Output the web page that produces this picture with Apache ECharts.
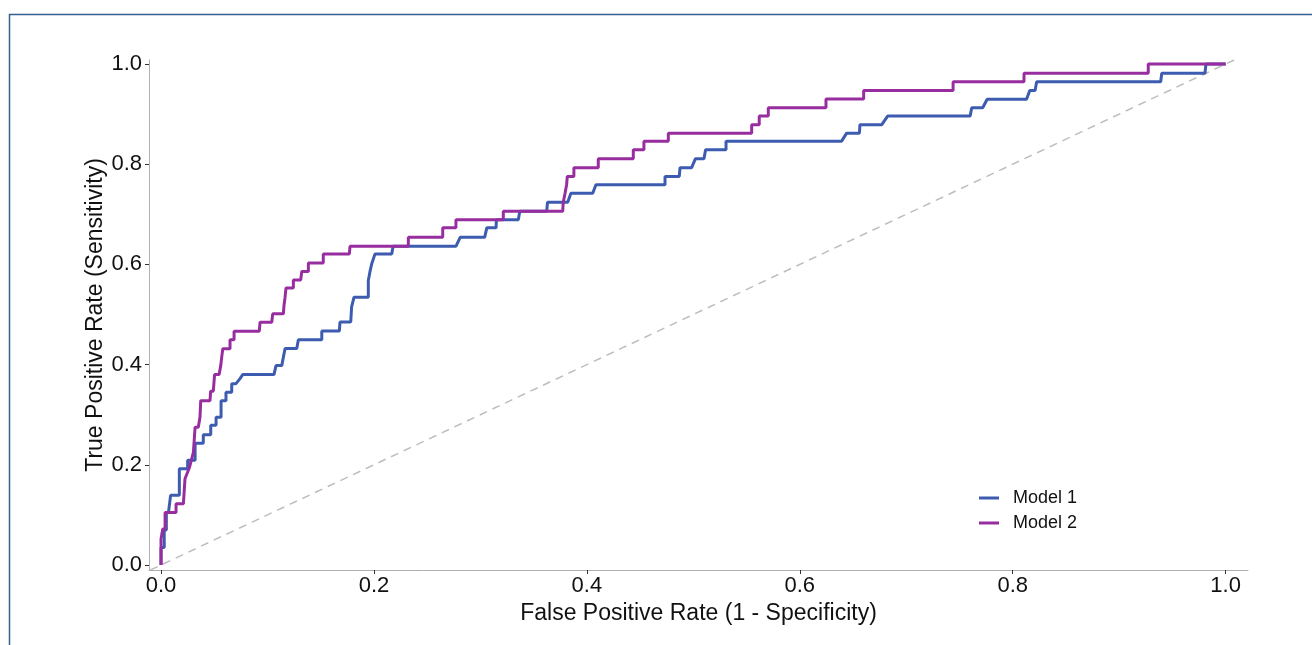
<!DOCTYPE html>
<html>
<head>
<meta charset="utf-8">
<script src="https://cdn.jsdelivr.net/npm/echarts@6/dist/echarts.min.js"></script>
<style>
html,body{margin:0;padding:0;background:#fff;}
#chart{width:1312px;height:645px;}
</style>
</head>
<body>
<div id="chart"></div>
<script>
// Tick values
const xTicks = [0, 0.2, 0.4, 0.6, 0.8, 1.0];
const yTicks = [0, 0.2, 0.4, 0.6, 0.8, 1.0];
const seriesNames = ['Model 1', 'Model 2'];

// Model 1 ROC curve
const model1Fpr = [0,0,0.003,0.003,0.005,0.005,0.007,0.009,0.0172,0.0172,0.025,0.025,0.032,0.032,0.0397,0.0397,0.0467,0.0467,0.0517,0.0517,0.0564,0.0564,0.061,0.061,0.0664,0.0664,0.0704,0.0742,0.0767,0.1061,0.108,0.1134,0.1165,0.1275,0.129,0.151,0.151,0.1675,0.1681,0.1782,0.179,0.1813,0.1947,0.1947,0.1963,0.198,0.201,0.2167,0.218,0.277,0.281,0.304,0.306,0.3147,0.315,0.3356,0.337,0.3623,0.363,0.382,0.385,0.4055,0.4085,0.4734,0.4734,0.4868,0.4875,0.4984,0.502,0.51,0.5115,0.5307,0.5307,0.6393,0.644,0.656,0.6565,0.677,0.6825,0.76,0.7615,0.7718,0.776,0.813,0.816,0.821,0.8225,0.939,0.94,0.9806,0.9815,1.0];
const model1Tpr = [0,0.035,0.035,0.07,0.07,0.105,0.105,0.139,0.139,0.192,0.192,0.209,0.209,0.243,0.243,0.26,0.26,0.279,0.279,0.295,0.295,0.328,0.328,0.345,0.345,0.362,0.362,0.372,0.38,0.38,0.398,0.398,0.432,0.432,0.4495,0.4495,0.467,0.467,0.485,0.485,0.515,0.5345,0.5345,0.568,0.586,0.602,0.621,0.621,0.636,0.636,0.654,0.654,0.673,0.673,0.689,0.689,0.706,0.706,0.724,0.724,0.742,0.742,0.759,0.759,0.7755,0.7755,0.793,0.793,0.811,0.811,0.8287,0.8287,0.846,0.846,0.862,0.862,0.879,0.879,0.896,0.896,0.9126,0.9126,0.9297,0.9297,0.947,0.947,0.9645,0.9645,0.9816,0.9816,1.0,1.0];

// Model 2 ROC curve
const model2Fpr = [0,0,0.0016,0.0016,0.0038,0.0038,0.0141,0.0141,0.021,0.0225,0.0266,0.0304,0.032,0.035,0.0366,0.0373,0.046,0.0466,0.0491,0.0503,0.0545,0.0561,0.057,0.058,0.0648,0.0648,0.0686,0.0686,0.0923,0.093,0.104,0.1049,0.1149,0.1155,0.1165,0.1174,0.1243,0.1243,0.1312,0.1322,0.1384,0.1384,0.1524,0.1524,0.1769,0.1775,0.2323,0.2323,0.2646,0.2646,0.277,0.277,0.3215,0.3215,0.3773,0.3778,0.3794,0.381,0.3816,0.3878,0.3878,0.4107,0.4107,0.4436,0.4436,0.4536,0.4536,0.4765,0.4765,0.5548,0.5548,0.5619,0.5619,0.5704,0.5704,0.6246,0.6246,0.660,0.660,0.744,0.744,0.8106,0.8106,0.9273,0.9273,1.0];
const model2Tpr = [0,0.052,0.0555,0.072,0.072,0.105,0.105,0.122,0.122,0.172,0.194,0.225,0.275,0.275,0.295,0.328,0.328,0.347,0.347,0.38,0.38,0.398,0.415,0.4315,0.4315,0.4495,0.4495,0.4667,0.4667,0.4846,0.4846,0.5014,0.5014,0.518,0.5345,0.553,0.553,0.569,0.569,0.586,0.586,0.603,0.603,0.621,0.621,0.636,0.636,0.654,0.654,0.673,0.673,0.689,0.689,0.706,0.706,0.724,0.741,0.7595,0.7755,0.7755,0.793,0.793,0.811,0.811,0.829,0.829,0.846,0.846,0.862,0.862,0.879,0.879,0.896,0.896,0.9126,0.9126,0.930,0.930,0.947,0.947,0.9645,0.9645,0.9816,0.9816,1.0,1.0];

// Chance diagonal (clipped to panel)
const diagX = [-0.01, 1.008];
const diagY = [-0.01, 1.008];

const zip = (a, b) => a.map((v, i) => [v, b[i]]);

const FONT = '"Liberation Sans", Arial, Helvetica, sans-serif';
const chart = echarts.init(document.getElementById('chart'), null, {renderer: 'canvas'});
chart.setOption({
  animation: false,
  backgroundColor: '#ffffff',
  graphic: [{
    type: 'rect',
    silent: true,
    shape: {x: 9.5, y: 14.5, width: 1400, height: 700},
    style: {fill: 'none', stroke: '#34618f', lineWidth: 1.5},
    z: 100
  }],
  grid: {left: 149, right: 64, top: 60, bottom: 75},
  legend: {
    data: seriesNames,
    orient: 'vertical',
    left: 974,
    top: 484,
    itemWidth: 20,
    itemHeight: 3,
    itemGap: 7,
    icon: 'rect',
    textStyle: {fontFamily: FONT, fontSize: 18, color: '#111111', padding: [0, 0, 0, 9]}
  },
  xAxis: {
    type: 'value',
    min: -0.0113,
    max: 1.021,
    name: 'False Positive Rate (1 - Specificity)',
    nameLocation: 'middle',
    nameGap: 32,
    nameMoveOverlap: false,
    nameTextStyle: {fontFamily: FONT, fontSize: 23, color: '#111111'},
    axisLine: {show: true, onZero: false, lineStyle: {color: '#b0b0b0', width: 1}},
    axisTick: {show: true, customValues: xTicks, length: 4, lineStyle: {color: '#333333', width: 1}},
    axisLabel: {customValues: xTicks, formatter: v => v.toFixed(1), fontFamily: FONT, fontSize: 22, color: '#111111', margin: 5},
    splitLine: {show: false}
  },
  yAxis: {
    type: 'value',
    min: -0.01,
    max: 1.008,
    name: 'True Positive Rate (Sensitivity)',
    nameLocation: 'middle',
    nameGap: 42,
    nameRotate: 90,
    nameMoveOverlap: false,
    nameTextStyle: {fontFamily: FONT, fontSize: 23, color: '#111111'},
    axisLine: {show: true, onZero: false, lineStyle: {color: '#b0b0b0', width: 1}},
    axisTick: {show: true, customValues: yTicks, length: 4, lineStyle: {color: '#333333', width: 1}},
    axisLabel: {customValues: yTicks, formatter: v => v.toFixed(1), fontFamily: FONT, fontSize: 22, color: '#111111', margin: 7},
    splitLine: {show: false}
  },
  series: [
    {
      name: 'Chance',
      type: 'line',
      data: zip(diagX, diagY),
      symbol: 'none',
      silent: true,
      lineStyle: {color: '#bdbdbd', width: 1.5, type: [8, 6]},
      z: 1
    },
    {
      name: 'Model 1',
      type: 'line',
      data: zip(model1Fpr, model1Tpr),
      symbol: 'none',
      color: '#3d5cb0',
      lineStyle: {color: '#3d5cb0', width: 3},
      z: 2
    },
    {
      name: 'Model 2',
      type: 'line',
      data: zip(model2Fpr, model2Tpr),
      symbol: 'none',
      color: '#982d9f',
      lineStyle: {color: '#982d9f', width: 3},
      z: 3
    }
  ]
});
</script>
</body>
</html>
